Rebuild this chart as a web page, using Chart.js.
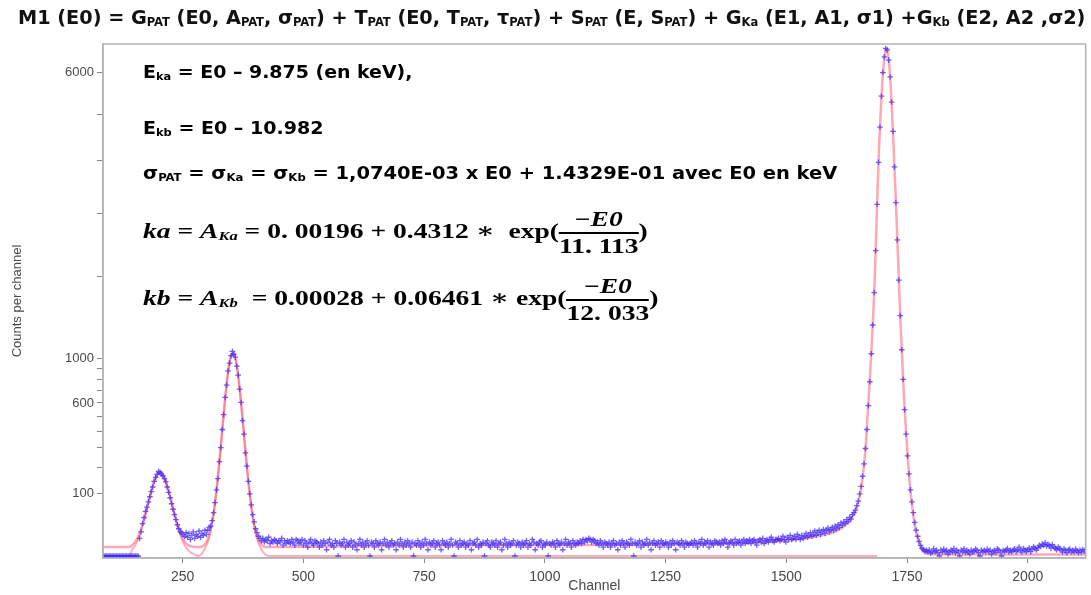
<!DOCTYPE html>
<html>
<head>
<meta charset="utf-8">
<script src="https://cdn.jsdelivr.net/npm/chart.js@4.4.1/dist/chart.umd.min.js"></script>
<style>
  body { margin: 0; background: #fff; }
  #wrap { position: relative; width: 1091px; height: 595px; overflow: hidden; }
  #box { position: absolute; left: 0; top: 0; width: 1091px; height: 595px; }
  .txt { position: absolute; white-space: nowrap; transform-origin: 0 50%; line-height: 1.1; color: #000; }
  .title { font: bold 19px 'Liberation Sans Narrow', 'DejaVu Sans Condensed', 'Liberation Sans', sans-serif; color: #111; }
  .eq { font: bold 18px 'Liberation Sans Narrow', 'DejaVu Sans Condensed', 'Liberation Sans', sans-serif; }
  .math { font: bold 21px 'Liberation Serif', 'DejaVu Serif', serif; }
  .sb { font-size: 0.6em; vertical-align: -0.15em; }
  .frac { display: inline-flex; flex-direction: column; vertical-align: middle; text-align: center; line-height: 1; }
  .frac > span:first-child { border-bottom: 2px solid #000; padding: 0 3px 2px; }
  .frac > span:last-child { padding-top: 2px; }
</style>
</head>
<body>
<div id="wrap">
  <div id="box"><canvas id="spectrum-chart"></canvas></div>

  <div class="txt title" data-x="18" data-y="17" data-w="1067">M1 (E0) = G<span class="sb">PAT</span> (E0, A<span class="sb">PAT</span>, σ<span class="sb">PAT</span>) + T<span class="sb">PAT</span> (E0, T<span class="sb">PAT</span>, τ<span class="sb">PAT</span>) + S<span class="sb">PAT</span> (E, S<span class="sb">PAT</span>) + G<span class="sb">Ka</span> (E1, A1, σ1) +G<span class="sb">Kb</span> (E2, A2 ,σ2)</div>

  <div class="txt eq" data-x="143" data-y="72" data-w="269">E<span class="sb">ka</span> = E0 – 9.875 (en keV),</div>
  <div class="txt eq" data-x="143" data-y="128" data-w="181">E<span class="sb">kb</span> = E0 – 10.982</div>
  <div class="txt eq" data-x="143" data-y="173" data-w="694">σ<span class="sb">PAT</span> = σ<span class="sb">Ka</span> = σ<span class="sb">Kb</span> = 1,0740E-03 x E0 + 1.4329E-01 avec E0 en keV</div>
  <div class="txt math" data-x="143" data-y="233" data-w="505"><i>ka</i> = <i>A</i><span class="sb"><i>Ka</i></span> = 0. 00196 + 0.4312 ∗ &nbsp;exp(<span class="frac"><span>−<i>E0</i></span><span>11. 113</span></span>)</div>
  <div class="txt math" data-x="143" data-y="300" data-w="515"><i>kb</i> = <i>A</i><span class="sb"><i>Kb</i></span> &nbsp;= 0.00028 + 0.06461 ∗ exp(<span class="frac"><span>−<i>E0</i></span><span>12. 033</span></span>)</div>
</div>

<script>
// axis ticks
const xTickValues = [250, 500, 750, 1000, 1250, 1500, 1750, 2000];
const yTickValues = [100, 200, 300, 400, 500, 600, 700, 800, 900, 1000, 2000, 3000, 4000, 5000, 6000];
const yTickLabels = [100, 600, 1000, 6000];

// measured spectrum, one point every 3 channels from channel 86
const firstChannel = 86;
const channelStep = 3;

const countsLowEdge = [0, 0, 0, 0, 0, 0, 0, 0, 0, 0, 0, 0, 0, 0, 0, 0, 0, 0, 0, 0, 0, 0, 0, 0, 0];
const countsPeak1 = [8, 15, 27, 38, 51, 61, 75, 90, 106, 122, 143, 158, 171, 183, 179, 173, 165, 153, 141, 122,
    104, 87, 70, 56, 44, 34, 25, 19, 15, 14];
const countsValley = [12, 10, 14, 9, 13, 7, 11, 15, 8, 12, 10, 16, 9, 13, 11, 17, 12, 17, 21];
const countsPeak2 = [23, 32, 48, 73, 112, 153, 228, 301, 410, 512, 644, 748, 878, 953, 1028, 1073, 1043, 1013, 923, 838,
    714, 604, 470, 381, 272, 207, 143, 99, 67, 44, 30, 19, 14, 10, 8];
const countsFlat = [
    6, 8, 5, 7, 6, 9, 4, 6, 5, 7, 6, 4, 6, 5, 8, 3, 6, 4, 6, 5,
    4, 7, 5, 3, 7, 6, 4, 5, 7, 3, 6, 4, 2, 5, 7, 4, 3, 6, 5, 4,
    2, 5, 3, 6, 4, 1, 5, 7, 3, 4, 2, 6, 4, 0, 5, 3, 4, 7, 2, 5,
    3, 4, 6, 2, 5, 3, 1, 4, 7, 3, 5, 2, 4, 6, 3, 0, 5, 4, 2, 6,
    4, 3, 5, 1, 4, 7, 3, 5, 2, 4, 6, 3, 4, 1, 5, 3, 7, 4, 2, 5,
    3, 6, 4, 2, 5, 0, 4, 3, 6, 4, 2, 5, 3, 7, 4, 1, 5, 3, 4, 6,
    2, 4, 5, 3, 1, 6, 4, 3, 5, 2, 4, 7, 3, 0, 5, 4, 2, 6, 3, 4,
    5, 2, 4, 3, 6, 1, 4, 5, 3, 7, 2, 4, 3, 5, 0, 4, 6, 3, 2, 5,
    4, 3, 6, 2, 4, 5, 1, 3, 7, 4, 2, 5, 3, 4, 6, 0, 3, 5, 4, 2,
    5, 3, 4, 6, 2, 4, 3, 7, 5, 1, 4, 3, 5, 6, 2, 4, 3, 5, 0, 4,
    3, 5, 4, 2, 6, 4, 3, 5, 1, 4, 7, 3, 5, 4, 2, 6, 4, 3, 5, 4,
    6, 4, 7, 5, 7, 6, 8, 7, 5, 7, 6, 4, 5, 3, 6, 4, 2, 5, 4, 3,
    5, 2, 4, 6, 3, 4, 1, 5, 3, 6, 4, 2, 5, 4, 3, 7, 4, 0, 5, 3,
    4, 6, 2, 5, 3, 4, 7, 3, 5, 1, 4, 6, 3, 4, 5, 2, 6, 4, 3, 5,
    4, 2, 5, 3, 6, 4, 1, 5, 4, 3, 6, 4, 2, 5, 4, 3];
const countsTail = [
    4, 5, 3, 6, 4, 2, 5, 4, 7, 3, 5, 4, 6, 2, 5, 4, 3, 6, 5, 4,
    5, 3, 6, 4, 7, 5, 2, 4, 6, 5, 3, 7, 4, 5, 6, 3, 5, 7, 4, 6,
    5, 7, 4, 6, 7, 5, 3, 6, 7, 5, 8, 4, 6, 7, 5, 7, 9, 6, 5, 7,
    7, 8, 6, 7, 10, 7, 5, 9, 7, 11, 7, 8, 10, 7, 12, 9, 7, 11, 8, 10,
    13, 9, 11, 14, 10, 12, 16, 11, 14, 17, 12, 15, 18, 13, 17, 20, 15, 18, 21, 17,
    23, 19, 25, 21, 28, 24, 30, 27, 34, 30, 38, 35, 44];
const countsMainPeak = [48, 54, 65, 77, 99, 124, 163, 217, 296, 410, 579, 778, 1048, 1367, 1777, 2388, 3169, 3971, 4714, 5416,
    5988, 6380, 6600, 6560, 6300, 5880, 5280, 4620, 3880, 3200, 2560, 1950, 1480, 1090, 800, 549, 381, 257, 173, 112,
    75, 48, 29, 17, 10, 5.5, 2.9, 1.5, 1, 0.5, 0.8];
const countsHigh = [
    0.5, 0.9, 0.2, 0.4, 1.3, 0.5, 0.8, 0.3, 0, 0.9, 0.4, 1.2, 0.5, 0.8, 0.1, 0.4, 0.9, 0.5, 1.4, 0.3,
    0.8, 0.4, 0, 0.9, 0.5, 1.3, 0.3, 0.8, 0.5, 0.1, 0.9, 0.4, 0.6, 1.2, 0.8, 0.3, 0, 0.9, 0.5, 0.8,
    0.4, 1.2, 0.5, 0.9, 0.1, 0.5, 0.8, 0.3, 1.3, 0.9, 0.4, 0, 0.8, 0.5, 0.9, 1.4, 0.4, 0.8, 0.5, 0.9,
    1.3, 0.5, 0.9, 2, 0.8, 0.4, 1.4, 0.9, 0.5, 1, 1.6, 0.5, 1.1, 2.2, 1.5, 0.9, 1.8, 2.9, 2.3, 3.6,
    3, 4.4, 2.4, 3.5, 2.8, 1.6, 3.3, 2.2, 1.5, 1, 2.1, 1.4, 0.9, 0.4, 1.3, 0.8, 0.3, 0.9, 1.2, 0.4,
    0.8, 0.4, 1.2, 0.7, 0.3, 0.9, 0.4, 1.1, 0.6];

// total fit M1
const fitTotalChannels = [85, 140, 145, 150, 155, 160, 165, 170, 175, 180, 185, 190, 195, 199, 203, 207, 211, 216, 221, 226,
    231, 236, 241, 246, 251, 256, 261, 268, 275, 282, 289, 295, 300, 305, 310, 315, 320, 325, 330, 335,
    340, 345, 350, 354, 358, 363, 368, 373, 378, 383, 388, 393, 398, 403, 408, 413, 420, 430,
    600, 800, 1000, 1200, 1300, 1380, 1440, 1480, 1520, 1560, 1600, 1620,
    1640, 1645, 1650, 1655, 1660, 1665, 1668, 1671, 1674, 1677, 1680, 1683, 1686, 1689, 1692, 1695, 1698, 1701, 1704, 1707,
    1710, 1713, 1716, 1719, 1722, 1725, 1728, 1731, 1734, 1737, 1740, 1744, 1748, 1752, 1756, 1760, 1764, 1768, 1772, 1776,
    1780, 1786, 1795, 1900, 2120];
const fitTotalCounts = [2.1, 2.1, 3, 4.3, 7, 12.1, 20.9, 34.6, 54.6, 79.6, 109, 138, 162, 175, 179, 175, 162, 138, 109, 79.6,
    54.6, 34.6, 20.9, 12.1, 7, 4.3, 3, 2.35, 2.15, 2.1, 2.2, 3.2, 5.5, 11.4, 25, 55, 111, 203, 342, 520,
    718, 900, 1022, 1057, 1022, 900, 718, 520, 342, 203, 111, 55, 25, 11.4, 5.5, 3.2, 2.2, 2.1,
    2.6, 2.9, 3.1, 3.3, 3.5, 4, 4.8, 5.6, 7, 9.5, 15, 23,
    44, 57, 79, 118, 192, 335, 490, 670, 890, 1160, 1490, 1940, 2640, 3440, 4240, 4940, 5590, 6090, 6440, 6580,
    6490, 6190, 5690, 5040, 4340, 3640, 2970, 2340, 1790, 1340, 990, 630, 392, 232, 128, 70, 36, 17, 8, 3.6,
    1.6, 0.5, 0.1, 0.05, 0.05];

// K-line gaussians without background
const fitGaussChannels = [85, 140, 145, 150, 155, 160, 165, 170, 175, 180, 185, 190, 195, 199, 203, 207, 211, 216, 221, 226,
    231, 236, 241, 246, 251, 256, 261, 268, 275, 282, 289, 295, 300, 305, 310, 315, 320, 325, 330, 335,
    340, 345, 350, 354, 358, 363, 368, 373, 378, 383, 388, 393, 398, 403, 408, 413, 420, 430, 1688];
const fitGaussCounts = [0, 0, 0.9, 2.2, 4.9, 10, 18.8, 32.5, 52.5, 77.5, 107, 136, 160, 173, 177, 173, 160, 136, 107, 77.5,
    52.5, 32.5, 18.8, 10, 4.9, 2.2, 0.9, 0.25, 0.05, 0, 0.1, 1.1, 3.4, 9.3, 23, 53, 109, 201, 340, 518,
    716, 898, 1020, 1055, 1020, 898, 716, 518, 340, 201, 109, 53, 23, 9.3, 3.4, 1.1, 0.1, 0, 0];

const SQRT_FLOOR = -0.32;

// square-root count axis
class SqrtScale extends Chart.LinearScale {
    getPixelForValue(value) {
        const lo = SQRT_FLOOR;
        const hi = Math.sqrt(this.max);
        return this.getPixelForDecimal((Math.sqrt(Math.max(value, 0)) - lo) / (hi - lo));
    }
    getValueForPixel(pixel) {
        const lo = SQRT_FLOOR;
        const hi = Math.sqrt(this.max);
        const s = lo + this.getDecimalForPixel(pixel) * (hi - lo);
        return s > 0 ? s * s : 0;
    }
}
SqrtScale.id = 'sqrt';
SqrtScale.defaults = Chart.LinearScale.defaults;
Chart.register(SqrtScale);

const allCounts = [].concat(countsLowEdge, countsPeak1, countsValley, countsPeak2, countsFlat, countsTail, countsMainPeak, countsHigh);
const spectrum = allCounts.map((c, i) => ({ x: firstChannel + i * channelStep, y: c }));
const fitTotal = fitTotalChannels.map((ch, i) => ({ x: ch, y: fitTotalCounts[i] }));
const fitGauss = fitGaussChannels.map((ch, i) => ({ x: ch, y: fitGaussCounts[i] }));

const framePlugin = {
    id: 'frame',
    afterDraw(chart) {
        const { ctx, chartArea: a } = chart;
        ctx.save();
        ctx.strokeStyle = '#b4b4b4';
        ctx.lineWidth = 1.5;
        ctx.strokeRect(a.left, a.top, a.right - a.left, a.bottom - a.top);
        ctx.restore();
    }
};

const axisFont = "'Liberation Sans', Arial, sans-serif";

new Chart(document.getElementById('spectrum-chart').getContext('2d'), {
    type: 'scatter',
    data: {
        datasets: [
            {
                label: 'Spectrum',
                data: spectrum,
                pointStyle: 'cross',
                pointRadius: 2.8,
                pointBorderWidth: 1.3,
                borderColor: 'rgba(65, 40, 255, 0.75)',
                backgroundColor: 'rgba(65, 40, 255, 0.75)',
                showLine: false,
                order: 0
            },
            {
                label: 'M1',
                data: fitTotal,
                showLine: true,
                pointRadius: 0,
                borderColor: 'rgba(255, 95, 120, 0.55)',
                borderWidth: 2.5,
                cubicInterpolationMode: 'monotone',
                order: 1
            },
            {
                label: 'GKa + GKb',
                data: fitGauss,
                showLine: true,
                pointRadius: 0,
                borderColor: 'rgba(255, 95, 120, 0.5)',
                borderWidth: 2,
                cubicInterpolationMode: 'monotone',
                order: 2
            }
        ]
    },
    options: {
        responsive: true,
        maintainAspectRatio: false,
        animation: false,
        layout: { padding: { top: 44, right: 3, left: 0, bottom: 0 } },
        plugins: {
            legend: { display: false },
            tooltip: { enabled: false }
        },
        scales: {
            x: {
                type: 'linear',
                min: 85,
                max: 2120,
                afterFit: (scale) => { scale.height = 37; },
                afterBuildTicks: (scale) => { scale.ticks = xTickValues.map(v => ({ value: v })); },
                ticks: {
                    color: '#4a4a4a',
                    font: { family: axisFont, size: 14 },
                    padding: 6,
                    maxRotation: 0,
                    callback: (value) => String(value)
                },
                grid: { drawOnChartArea: false, drawTicks: true, tickLength: 5, color: '#8a8a8a' },
                border: { display: true, color: '#b4b4b4', width: 1.5 },
                title: {
                    display: true,
                    text: 'Channel',
                    color: '#4a4a4a',
                    font: { family: axisFont, size: 14 },
                    padding: { top: 0, bottom: 0 }
                }
            },
            y: {
                type: 'sqrt',
                min: 0,
                max: 6716,
                afterFit: (scale) => { scale.width = 103; },
                afterBuildTicks: (scale) => { scale.ticks = yTickValues.map(v => ({ value: v })); },
                ticks: {
                    color: '#4a4a4a',
                    font: { family: axisFont, size: 13 },
                    padding: 3,
                    autoSkip: false,
                    callback: (value) => yTickLabels.includes(value) ? String(value) : ''
                },
                grid: { drawOnChartArea: false, drawTicks: true, tickLength: 6, color: '#8a8a8a' },
                border: { display: true, color: '#b4b4b4', width: 1.5 },
                title: {
                    display: true,
                    text: 'Counts per channel',
                    color: '#4a4a4a',
                    font: { family: axisFont, size: 13 },
                    padding: { top: 10, bottom: 0 }
                }
            }
        }
    },
    plugins: [framePlugin]
});

function placeText() {
    document.querySelectorAll('.txt').forEach(el => {
        el.style.transform = 'none';
        const w = el.offsetWidth;
        const h = el.offsetHeight;
        el.style.left = el.dataset.x + 'px';
        el.style.top = (el.dataset.y - h / 2) + 'px';
        el.style.transform = 'scaleX(' + (el.dataset.w / w) + ')';
    });
}
placeText();
if (document.fonts) document.fonts.ready.then(placeText);
</script>
</body>
</html>
